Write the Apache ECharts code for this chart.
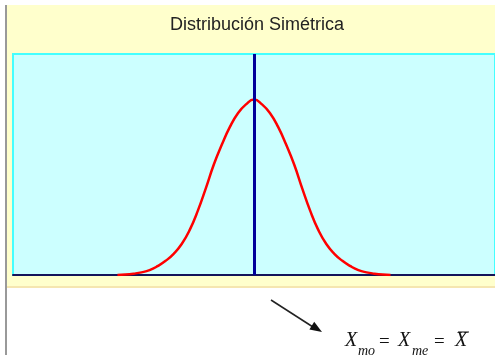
<!DOCTYPE html>
<html>
<head>
<meta charset="utf-8">
<script src="https://cdn.jsdelivr.net/npm/echarts@6/dist/echarts.min.js"></script>
<style>
  html, body { margin: 0; padding: 0; background: #fff; }
  #chart { width: 495px; height: 355px; }
</style>
</head>
<body>
<div id="chart"></div>
<script>
// valores de x (desviaciones) y altura de la curva
const xValues = [
  -3.4, -3.2, -3.0, -2.8, -2.6, -2.4, -2.2, -2.0, -1.8, -1.6, -1.4, -1.2,
  -1.0, -0.8, -0.6, -0.4, -0.2, 0, 0.2, 0.4, 0.6, 0.8, 1.0, 1.2,
  1.4, 1.6, 1.8, 2.0, 2.2, 2.4, 2.6, 2.8, 3.0, 3.2, 3.4
]
const densityValues = [
  0.000, 0.001, 0.003, 0.006, 0.011, 0.020, 0.032, 0.048, 0.070, 0.102, 0.145, 0.196,
  0.250, 0.295, 0.335, 0.366, 0.386, 0.397, 0.386, 0.366, 0.335, 0.295, 0.250, 0.196,
  0.145, 0.102, 0.070, 0.048, 0.032, 0.020, 0.011, 0.006, 0.003, 0.001, 0.000
]
// moda = mediana = media
const centerValue = 0
const titleText = 'Distribución Simétrica'

const chart = echarts.init(document.getElementById('chart'))

const seriesData = xValues.map((x, i) => [x, densityValues[i]])

const serifFont = '"Liberation Serif", "Times New Roman", serif'

const option = {
  backgroundColor: '#ffffff',
  animation: false,
  title: {
    text: titleText,
    left: 165,
    top: 11,
    textStyle: {
      fontFamily: 'Liberation Sans, Arial, sans-serif',
      fontSize: 18,
      fontWeight: 'normal',
      color: '#222222',
    },
  },
  grid: {
    left: 13,
    right: 0,
    top: 54,
    bottom: 80,
    show: true,
    backgroundColor: '#ccffff',
    borderColor: '#44ffff',
    borderWidth: 2,
  },
  xAxis: {
    type: 'value',
    min: -6,
    max: 6,
    axisLine: { show: true, onZero: false, lineStyle: { color: '#14145a', width: 2 } },
    axisTick: { show: false },
    axisLabel: { show: false },
    splitLine: { show: false },
  },
  yAxis: {
    type: 'value',
    min: 0,
    max: 0.5,
    show: false,
  },
  series: [
    {
      type: 'line',
      data: seriesData,
      smooth: true,
      symbol: 'none',
      lineStyle: { color: '#ff0000', width: 2.5 },
      z: 3,
      markLine: {
        silent: true,
        symbol: ['none', 'none'],
        label: { show: false },
        lineStyle: { color: '#000099', width: 3, type: 'solid' },
        data: [{ xAxis: centerValue }],
        z: 4,
      },
    },
  ],
  graphic: [
    // fondo amarillo del área del gráfico
    {
      type: 'rect',
      z: -10,
      shape: { x: 7, y: 5, width: 488, height: 283 },
      style: { fill: '#ffffcc' },
    },
    {
      type: 'line',
      z: -9,
      shape: { x1: 7, y1: 287, x2: 495, y2: 287 },
      style: { stroke: '#f5e6b0', lineWidth: 2 },
    },
    // borde izquierdo gris
    {
      type: 'line',
      shape: { x1: 6, y1: 5, x2: 6, y2: 355 },
      style: { stroke: '#999999', lineWidth: 2 },
    },
    // flecha
    {
      type: 'line',
      shape: { x1: 271, y1: 300, x2: 313, y2: 327 },
      style: { stroke: '#222222', lineWidth: 1.5 },
    },
    {
      type: 'polygon',
      shape: { points: [[322, 332], [309.4, 329.4], [314.2, 321.8]] },
      style: { fill: '#111111' },
    },
    // fórmula
    {
      type: 'text',
      x: 345, y: 341,
      style: { text: 'X', font: 'italic 20px ' + serifFont, fill: '#111', verticalAlign: 'middle' },
    },
    {
      type: 'text',
      x: 358, y: 351,
      style: { text: 'mo', font: 'italic 14px ' + serifFont, fill: '#111', verticalAlign: 'middle' },
    },
    {
      type: 'text',
      x: 379, y: 342,
      style: { text: '=', font: '19px ' + serifFont, fill: '#111', verticalAlign: 'middle' },
    },
    {
      type: 'text',
      x: 398, y: 341,
      style: { text: 'X', font: 'italic 20px ' + serifFont, fill: '#111', verticalAlign: 'middle' },
    },
    {
      type: 'text',
      x: 412, y: 351,
      style: { text: 'me', font: 'italic 14px ' + serifFont, fill: '#111', verticalAlign: 'middle' },
    },
    {
      type: 'text',
      x: 434, y: 342,
      style: { text: '=', font: '19px ' + serifFont, fill: '#111', verticalAlign: 'middle' },
    },
    {
      type: 'text',
      x: 455, y: 341,
      style: { text: 'X', font: 'italic 20px ' + serifFont, fill: '#111', verticalAlign: 'middle' },
    },
    {
      type: 'line',
      shape: { x1: 458, y1: 332, x2: 469, y2: 332 },
      style: { stroke: '#111', lineWidth: 1 },
    },
  ],
}

chart.setOption(option)
</script>
</body>
</html>
